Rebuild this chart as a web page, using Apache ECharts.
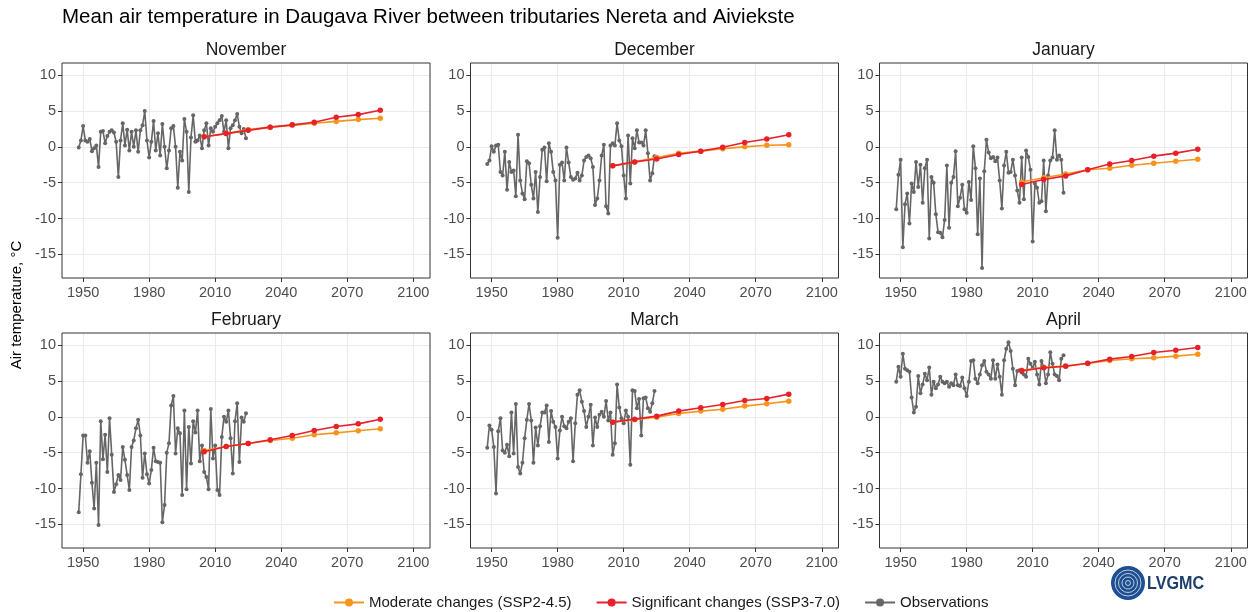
<!DOCTYPE html>
<html><head><meta charset="utf-8">
<script src="https://cdn.jsdelivr.net/npm/echarts@6/dist/echarts.min.js"></script>
<style>html,body{margin:0;padding:0;background:#fff}#c{width:1258px;height:612px}</style>
</head><body><div id="c"></div>
<script>
// ---------- DATA ----------
const months = ['November', 'December', 'January', 'February', 'March', 'April'];
const obsStartYear = 1948;
const obsNov = [-0.1, 0.9, 2.9, 0.9, 0.7, 1.1, -0.6, -0.2, 0.2, -2.8,
  2.1, 2.2, 0.5, 1.5, 2.1, 2.3, 2.0, 0.7, -4.2, 0.9,
  3.3, 0.2, 2.4, -0.5, 2.1, 0.0, 2.3, -0.7, 2.3, 3.0,
  5.0, 0.9, -1.5, 0.7, 3.6, -0.5, 1.9, -1.2, 3.2, 0.0,
  -3.0, -0.5, 2.6, 2.9, 0.0, -5.7, -0.7, -1.9, 3.9, 2.1,
  -6.3, 1.3, 4.4, 0.7, 0.9, 1.6, -0.2, 2.3, 3.3, 0.2,
  2.6, 2.1, 2.8, 3.3, 3.7, 4.3, 2.1, 3.7, -0.2, 2.6,
  3.0, 3.7, 4.6, 2.8, 1.9, 2.5, 1.2];
const obsDec = [-2.4, -1.9, 0.1, -0.7, 0.2, 0.3, -3.5, -4.0, -0.7, -6.0,
  -2.1, -3.5, -3.3, -6.9, 1.7, -4.7, -6.5, -7.3, -2.0, -2.3,
  -5.3, -7.2, -3.5, -9.1, -4.2, -0.4, -0.1, -4.8, 0.5, -0.7,
  -3.5, -4.7, -12.7, -2.5, -2.2, -4.7, -0.1, -2.2, -4.2, -4.6,
  -4.4, -3.6, -4.7, -4.0, -1.9, -1.4, -1.2, -1.6, -2.8, -8.1,
  -7.2, -4.7, -1.2, 0.3, -8.3, -9.3, 0.2, 0.5, 0.2, 3.3,
  0.9, 0.1, -4.0, -7.2, 1.6, -5.1, 1.2, -0.2, 2.3, 0.6,
  0.6, 0.2, 2.3, -0.9, -4.7, -3.7, -1.3];
const obsJan = [-8.7, -3.9, -1.8, -14.0, -8.0, -6.5, -10.7, -5.1, -6.3, -2.1,
  -5.6, -2.5, -7.8, -3.0, -1.8, -12.8, -4.2, -5.0, -9.4, -11.9,
  -12.0, -12.6, -10.2, -2.6, -11.3, -5.0, -4.2, -0.6, -8.3, -7.1,
  -5.3, -8.7, -9.2, -4.9, -7.4, 0.1, -3.0, -12.2, -4.4, -16.9,
  -3.4, 1.0, -0.8, -1.6, -1.4, -2.0, -1.5, -4.7, -8.6, -2.6,
  -0.7, -3.6, -3.5, -1.8, -4.0, -6.1, -7.8, -1.5, -7.3, -0.5,
  -1.4, -3.2, -13.2, -5.1, -5.7, -7.8, -7.6, -1.9, -9.0, -4.0,
  -1.9, -1.5, 2.3, -1.8, -1.2, -1.8, -6.4];
const obsFeb = [-13.3, -8.0, -2.6, -2.6, -6.4, -4.8, -9.2, -12.8, -6.4, -15.1,
  -0.6, -5.9, -2.5, -7.7, -0.2, -5.3, -10.5, -9.4, -8.1, -8.8,
  -4.2, -6.0, -8.1, -10.2, -4.2, -3.3, -1.6, -0.4, -2.6, -8.5,
  -5.1, -8.0, -9.3, -7.4, -4.3, -6.2, -6.3, -6.4, -14.7, -12.3,
  -5.0, -3.7, 1.6, 2.9, -5.1, -1.6, -2.3, -10.9, 0.9, -10.1,
  -1.4, -6.5, -0.6, -2.2, 0.9, -6.2, -4.0, -7.7, -8.4, -10.1,
  1.1, -5.8, -4.0, -10.2, -10.9, -2.8, 0.0, -0.7, 0.9, -3.0,
  -7.9, -0.6, 1.9, -6.3, -0.1, -0.7, 0.5];
const obsMar = [-4.3, -1.2, -1.8, -4.2, -10.7, -2.0, -0.2, -4.7, -5.0, -3.9,
  -5.5, 0.6, -5.1, 1.8, -7.0, -7.9, -6.4, -3.0, -0.4, 1.8,
  -0.5, -6.4, -1.5, -4.0, -1.3, 0.6, 0.6, 1.6, -3.5, 0.8,
  -0.7, -1.4, -5.8, -1.9, 0.0, -1.3, -1.6, -0.7, -0.2, -6.2,
  -0.9, 3.1, 3.7, 2.1, 0.8, -1.4, 0.0, 1.7, -4.0, -0.1,
  -1.4, 0.3, 0.7, 0.0, 2.2, -0.5, 0.6, -5.3, -3.7, 4.5,
  1.3, -0.2, -0.9, 0.9, 0.0, -6.7, 3.7, 3.6, 1.2, 2.5,
  -2.6, 2.6, 2.7, 1.2, 0.7, 1.9, 3.6];
const obsApr = [4.9, 7.0, 5.6, 8.8, 6.7, 6.5, 6.3, 2.7, 0.6, 1.4,
  5.7, 3.3, 4.5, 6.0, 5.1, 6.9, 3.1, 4.9, 4.0, 4.5,
  5.6, 4.9, 4.7, 4.9, 4.2, 4.7, 4.4, 5.9, 4.4, 4.3,
  5.5, 4.0, 2.9, 4.9, 7.8, 7.9, 5.3, 4.7, 5.9, 7.2,
  7.8, 6.3, 5.9, 5.3, 7.9, 5.3, 7.3, 5.6, 3.1, 7.9,
  9.5, 10.4, 9.2, 6.7, 4.4, 6.4, 6.5, 6.2, 5.9, 5.6,
  8.1, 7.4, 6.8, 7.7, 5.9, 4.5, 7.8, 7.0, 4.7, 5.9,
  9.0, 7.4, 5.9, 5.7, 5.1, 8.1, 8.6];

const projYears = [2005, 2015, 2025, 2035, 2045, 2055, 2065, 2075, 2085];
const modNov = [1.4, 1.85, 2.4, 2.75, 3.0, 3.3, 3.55, 3.8, 4.0];
const sigNov = [1.4, 1.85, 2.3, 2.75, 3.07, 3.44, 4.14, 4.5, 5.1];
const modDec = [-2.65, -2.1, -1.5, -0.9, -0.6, -0.25, 0.0, 0.23, 0.28];
const sigDec = [-2.65, -2.1, -1.7, -1.07, -0.6, -0.05, 0.6, 1.1, 1.7];
const modJan = [-4.9, -4.3, -3.8, -3.2, -2.98, -2.56, -2.28, -2.0, -1.72];
const sigJan = [-5.26, -4.56, -4.05, -3.2, -2.4, -1.9, -1.3, -0.88, -0.33];
const modFeb = [-4.7, -4.14, -3.72, -3.3, -2.98, -2.5, -2.23, -1.95, -1.67];
const sigFeb = [-4.88, -4.14, -3.72, -3.2, -2.6, -1.9, -1.35, -0.98, -0.33];
const modMar = [-0.74, -0.41, -0.04, 0.47, 0.8, 1.07, 1.5, 1.82, 2.19];
const sigMar = [-0.74, -0.32, 0.1, 0.8, 1.26, 1.73, 2.28, 2.56, 3.17];
const modApr = [6.5, 6.93, 7.1, 7.44, 7.86, 8.1, 8.23, 8.47, 8.74];
const sigApr = [6.42, 6.84, 7.07, 7.49, 8.05, 8.42, 8.98, 9.3, 9.67];

const xTicks = [1950, 1980, 2010, 2040, 2070, 2100];
const yTicks = [-15, -10, -5, 0, 5, 10];

const seriesNames = ['Moderate changes (SSP2-4.5)', 'Significant changes (SSP3-7.0)', 'Observations'];
const chartTitle = 'Mean air temperature in Daugava River between tributaries Nereta and Aiviekste';
const yTitle = 'Air temperature, °C';

// ---------- BUILD ----------
const obsAll = [obsNov, obsDec, obsJan, obsFeb, obsMar, obsApr];
const modAll = [modNov, modDec, modJan, modFeb, modMar, modApr];
const sigAll = [sigNov, sigDec, sigJan, sigFeb, sigMar, sigApr];
const obsYears = obsNov.map((_, i) => obsStartYear + i);

const colLeft = [62, 470.5, 879.5];
const rowTop = [63, 333];
const W = 368, H = 215;
const FONT = '"Liberation Sans", Arial, sans-serif';
const GRAY = '#666666', ORANGE = '#F7941D', RED = '#E8202A';

const grids = [], xAxes = [], yAxes = [], series = [], graphics = [];
months.forEach((m, i) => {
  const c = i % 3, r = Math.floor(i / 3);
  grids.push({ left: colLeft[c], top: rowTop[r], width: W, height: H, show: true,
    backgroundColor: 'transparent', borderColor: '#333333', borderWidth: 1, z: 10 });
  xAxes.push({ type: 'value', gridIndex: i, min: 1940.4, max: 2107.6, splitNumber: 5,
    axisLine: { show: false, onZero: false },
    axisTick: { show: true, length: 4, lineStyle: { color: '#333333' }, customValues: xTicks },
    axisLabel: { color: '#4d4d4d', fontSize: 14.5, fontFamily: FONT, margin: 7, customValues: xTicks,
      formatter: v => String(v) },
    splitLine: { show: true, lineStyle: { color: '#ebebeb', width: 1 } } });
  yAxes.push({ type: 'value', gridIndex: i, min: -18.3, max: 11.7, splitNumber: 5,
    axisLine: { show: false, onZero: false },
    axisTick: { show: true, length: 4, lineStyle: { color: '#333333' }, customValues: yTicks },
    axisLabel: { color: '#4d4d4d', fontSize: 14.5, fontFamily: FONT, margin: 6, customValues: yTicks,
      formatter: v => String(v) },
    splitLine: { show: true, lineStyle: { color: '#ebebeb', width: 1 } } });
  series.push({ type: 'line', name: seriesNames[2], xAxisIndex: i, yAxisIndex: i,
    data: obsYears.map((y, k) => [y, obsAll[i][k]]), symbol: 'circle', symbolSize: 4,
    lineStyle: { color: GRAY, width: 1.6 }, itemStyle: { color: GRAY }, z: 2, silent: true });
  series.push({ type: 'line', name: seriesNames[0], xAxisIndex: i, yAxisIndex: i,
    data: projYears.map((y, k) => [y, modAll[i][k]]), symbol: 'circle', symbolSize: 5.5,
    lineStyle: { color: ORANGE, width: 1.6 }, itemStyle: { color: ORANGE }, z: 3, silent: true });
  series.push({ type: 'line', name: seriesNames[1], xAxisIndex: i, yAxisIndex: i,
    data: projYears.map((y, k) => [y, sigAll[i][k]]), symbol: 'circle', symbolSize: 5.5,
    lineStyle: { color: RED, width: 1.6 }, itemStyle: { color: RED }, z: 4, silent: true });
  graphics.push({ type: 'text', x: colLeft[c] + W / 2, y: rowTop[r] - 13,
    style: { text: m, fill: '#1a1a1a', font: '17.5px ' + FONT, textAlign: 'center', textVerticalAlign: 'middle' } });
});

graphics.push({ type: 'text', x: 62, y: 17,
  style: { text: chartTitle, fill: '#000', font: '20.5px ' + FONT, textAlign: 'left', textVerticalAlign: 'middle' } });
graphics.push({ type: 'text', x: 17, y: 305, rotation: Math.PI / 2,
  style: { text: yTitle, fill: '#000', font: '15px ' + FONT, textAlign: 'center', textVerticalAlign: 'middle' } });
// logo
graphics.push({ type: 'circle', shape: { cx: 1128, cy: 583, r: 17 }, style: { fill: '#1d4f91' } });
[13, 9.5, 6, 2.5].forEach(rr => graphics.push({ type: 'circle', shape: { cx: 1128, cy: 583, r: rr },
  style: { fill: 'none', stroke: '#ffffff', lineWidth: 1, opacity: 0.7 } }));
graphics.push({ type: 'text', x: 1147, y: 584, scaleX: 0.85,
  style: { text: 'LVGMC', fill: '#1d3f6e', font: 'bold 19px ' + FONT, textAlign: 'left', textVerticalAlign: 'middle' } });

const chart = echarts.init(document.getElementById('c'), null, { renderer: 'canvas' });
chart.setOption({
  animation: false,
  backgroundColor: '#ffffff',
  grid: grids, xAxis: xAxes, yAxis: yAxes, series: series,
  legend: { data: seriesNames, left: 328, top: 590, itemWidth: 30, itemHeight: 10, itemGap: 24,
    textStyle: { color: '#1a1a1a', fontSize: 15, fontFamily: FONT }, selectedMode: false },
  graphic: graphics
});
</script></body></html>
